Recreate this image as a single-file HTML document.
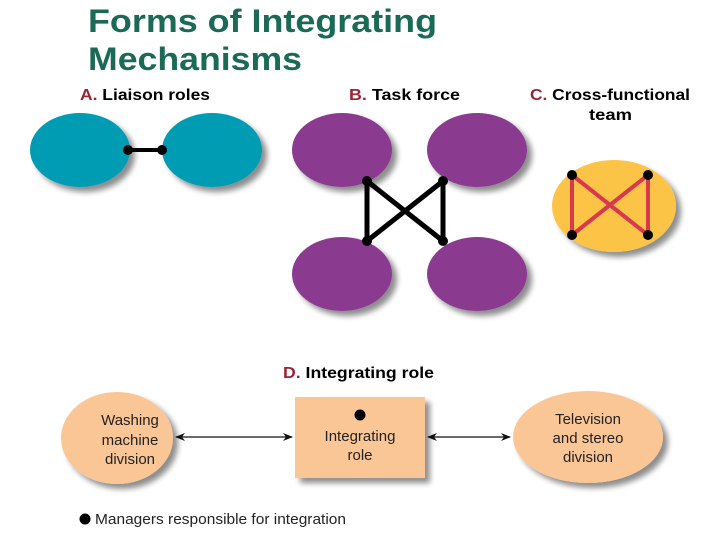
<!DOCTYPE html>
<html><head><meta charset="utf-8"><style>
html,body{margin:0;padding:0;background:#fff;}
svg{display:block;}
</style></head><body>
<svg width="720" height="540" viewBox="0 0 720 540" xmlns="http://www.w3.org/2000/svg" font-family="Liberation Sans, sans-serif">
<defs>
<filter id="sh" x="-20%" y="-20%" width="150%" height="150%">
<feGaussianBlur in="SourceAlpha" stdDeviation="3"/>
<feOffset dx="5" dy="5" result="o"/>
<feComponentTransfer><feFuncA type="linear" slope="0.45"/></feComponentTransfer>
<feMerge><feMergeNode/><feMergeNode in="SourceGraphic"/></feMerge>
</filter>
<marker id="ah" markerWidth="10" markerHeight="8" refX="9" refY="4" orient="auto-start-reverse" markerUnits="userSpaceOnUse">
<path d="M0,0 L10,4 L0,8 L3,4 Z" fill="#111"/>
</marker>
</defs>
<text x="88" y="32" font-size="32" font-weight="bold" fill="#1b6a56" textLength="349" lengthAdjust="spacingAndGlyphs">Forms of Integrating</text>
<text x="88" y="70" font-size="32" font-weight="bold" fill="#1b6a56" textLength="214" lengthAdjust="spacingAndGlyphs">Mechanisms</text>

<g font-weight="bold" font-size="16">
<text x="80" y="100" textLength="130" lengthAdjust="spacingAndGlyphs"><tspan fill="#9b2335">A.</tspan> Liaison roles</text>
<text x="349" y="100" textLength="111" lengthAdjust="spacingAndGlyphs"><tspan fill="#9b2335">B.</tspan> Task force</text>
<text x="530" y="100" textLength="160" lengthAdjust="spacingAndGlyphs"><tspan fill="#9b2335">C.</tspan> Cross-functional</text>
<text x="589" y="120" textLength="43" lengthAdjust="spacingAndGlyphs">team</text>
<text x="283" y="378" textLength="151" lengthAdjust="spacingAndGlyphs"><tspan fill="#9b2335">D.</tspan>  Integrating role</text>
</g>

<g filter="url(#sh)">
<ellipse cx="80" cy="150" rx="50" ry="37" fill="#049cb4"/>
<ellipse cx="212" cy="150" rx="50" ry="37" fill="#049cb4"/>
<ellipse cx="342" cy="150" rx="50" ry="37" fill="#8a3a90"/>
<ellipse cx="477" cy="150" rx="50" ry="37" fill="#8a3a90"/>
<ellipse cx="342" cy="274" rx="50" ry="37" fill="#8a3a90"/>
<ellipse cx="477" cy="274" rx="50" ry="37" fill="#8a3a90"/>
<ellipse cx="614" cy="206" rx="62" ry="46" fill="#fcc447"/>
<ellipse cx="117" cy="438" rx="56" ry="46" fill="#fbc695"/>
<rect x="295" y="397" width="130" height="81" fill="#fbc695"/>
<ellipse cx="588" cy="437" rx="75" ry="46" fill="#fbc695"/>
</g>

<line x1="128" y1="150" x2="162" y2="150" stroke="#000" stroke-width="4"/>
<circle cx="128" cy="150" r="5"/><circle cx="162" cy="150" r="5"/>

<g stroke="#000" stroke-width="5">
<line x1="367" y1="181" x2="367" y2="241"/>
<line x1="443" y1="181" x2="443" y2="241"/>
<line x1="367" y1="181" x2="443" y2="241"/>
<line x1="443" y1="181" x2="367" y2="241"/>
</g>
<circle cx="367" cy="181" r="5"/><circle cx="443" cy="181" r="5"/>
<circle cx="367" cy="241" r="5"/><circle cx="443" cy="241" r="5"/>

<g stroke="#d9394f" stroke-width="4">
<line x1="572" y1="175" x2="572" y2="235"/>
<line x1="648" y1="175" x2="648" y2="235"/>
<line x1="572" y1="175" x2="648" y2="235"/>
<line x1="648" y1="175" x2="572" y2="235"/>
</g>
<circle cx="572" cy="175" r="5"/><circle cx="648" cy="175" r="5"/>
<circle cx="572" cy="235" r="5"/><circle cx="648" cy="235" r="5"/>

<g stroke="#111" stroke-width="1.3">
<line x1="176" y1="437" x2="292" y2="437" marker-start="url(#ah)" marker-end="url(#ah)"/>
<line x1="428" y1="437" x2="510" y2="437" marker-start="url(#ah)" marker-end="url(#ah)"/>
</g>

<g font-size="15" fill="#222" text-anchor="middle">
<text x="130" y="425">Washing</text>
<text x="130" y="445">machine</text>
<text x="130" y="464">division</text>
<circle cx="360" cy="415" r="5.5" fill="#000"/>
<text x="360" y="441">Integrating</text>
<text x="360" y="460">role</text>
<text x="588" y="424">Television</text>
<text x="588" y="443">and stereo</text>
<text x="588" y="462">division</text>
</g>
<circle cx="85" cy="519" r="5.5"/>
<text x="95" y="524" font-size="15" fill="#222" textLength="251" lengthAdjust="spacingAndGlyphs">Managers responsible for integration</text>
</svg>
</body></html>
